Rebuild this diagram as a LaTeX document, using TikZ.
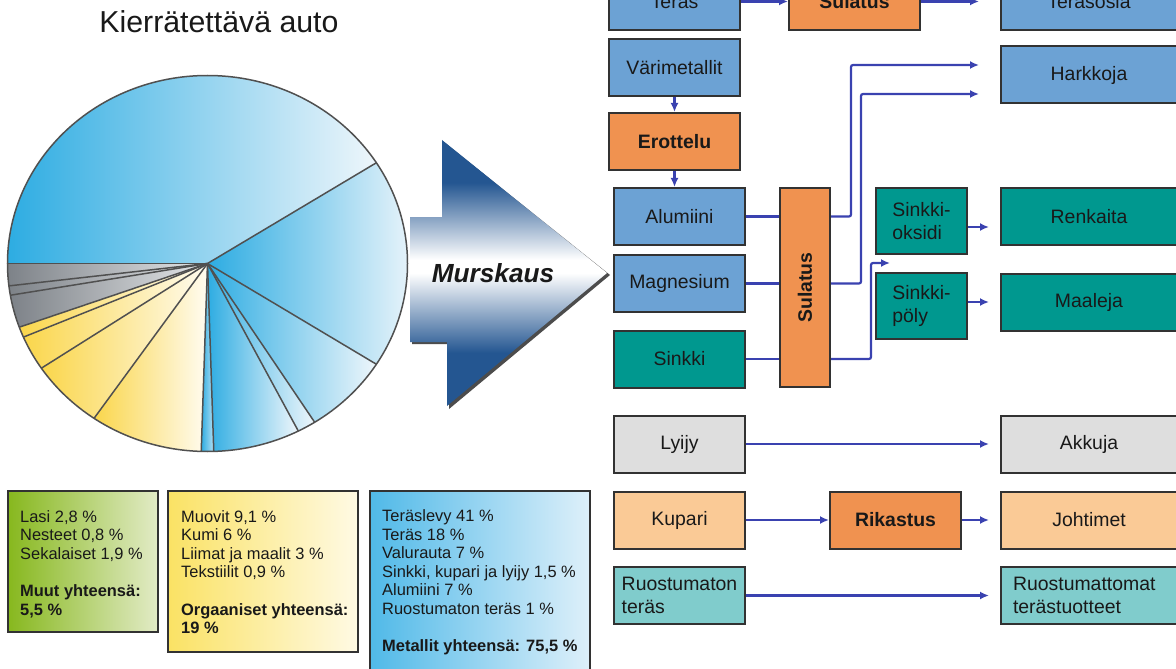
\documentclass[tikz,border=0pt]{standalone}
\usepackage{fontspec}
\setmainfont{Liberation Sans}
\usetikzlibrary{arrows.meta,calc}
\definecolor{bxblue}{RGB}{108,162,212}
\definecolor{bxorange}{RGB}{240,146,80}
\definecolor{bxteal}{RGB}{0,152,143}
\definecolor{bxgray}{RGB}{222,222,222}
\definecolor{bxpeach}{RGB}{250,202,150}
\definecolor{bxlteal}{RGB}{128,204,204}
\definecolor{conn}{RGB}{58,66,176}
\definecolor{edge}{RGB}{50,50,50}
\definecolor{pieline}{RGB}{80,80,80}
\definecolor{pieblue}{RGB}{45,172,226}
\definecolor{pieblueL}{RGB}{238,246,251}
\definecolor{pieyel}{RGB}{250,214,75}
\definecolor{pieyelL}{RGB}{255,252,242}
\definecolor{piegray}{RGB}{125,130,136}
\definecolor{piegrayL}{RGB}{228,230,232}
\definecolor{arrdark}{RGB}{36,86,145}
\definecolor{grnD}{RGB}{135,184,30}
\definecolor{grnL}{RGB}{226,235,198}
\definecolor{yelD}{RGB}{250,226,100}
\definecolor{yelL}{RGB}{255,250,228}
\definecolor{bluD}{RGB}{80,185,232}
\definecolor{bluL}{RGB}{222,240,250}
\pgfdeclareverticalshading{murskshade}{100bp}{color(0bp)=(arrdark); color(35bp)=(arrdark); color(50bp)=(white); color(52.5bp)=(white); color(67bp)=(arrdark); color(100bp)=(arrdark)}
\begin{document}
\begin{tikzpicture}[x=1bp,y=-1bp,
  fbox/.style={draw=edge, line width=2bp, inner sep=0pt, minimum height=57bp,
    minimum width=131bp, font=\fontsize{19.5}{22.5}\selectfont, text=black!90, align=center},
  wide/.style={minimum width=176bp},
  bld/.style={font=\fontsize{19.5}{22.5}\selectfont\bfseries},
  arr/.style={draw=conn, line width=2.2bp, -{Latex[length=9bp,width=8bp]}},
  ln/.style={draw=conn, line width=2.2bp},
  slc/.style={draw=pieline, line width=1.5bp},
  btxt/.style={anchor=base west, inner sep=0pt, font=\fontsize{16.5}{19}\selectfont, text=black!90},
  bbtxt/.style={btxt, font=\fontsize{16.5}{19}\selectfont\bfseries},
  panel/.style={draw=edge, line width=2bp},
  sl/.style={x radius=200, y radius=188}
]
\useasboundingbox (0,0) rectangle (1176,669);
\fill[white] (0,0) rectangle (1176,669);

% title
\node[font=\fontsize{30.4}{36}\selectfont, text=black!90] (title) at (219,22) {Kierrätettävä auto};

% pie
\begin{scope}[shift={(207.5,263.5)}, yscale=-1]
  \shade[left color=pieblue,right color=pieblueL] (0,0) -- (180:200 and 188) arc[start angle=180,end angle=32.4,sl] -- cycle;
  \shade[left color=pieblue,right color=pieblueL] (0,0) -- (32.4:200 and 188) arc[start angle=32.4,end angle=-32.4,sl] -- cycle;
  \shade[left color=pieblue,right color=pieblueL] (0,0) -- (-32.4:200 and 188) arc[start angle=-32.4,end angle=-57.6,sl] -- cycle;
  \shade[left color=pieblue,right color=pieblueL] (0,0) -- (-57.6:200 and 188) arc[start angle=-57.6,end angle=-63,sl] -- cycle;
  \shade[left color=pieblue,right color=pieblueL] (0,0) -- (-63:200 and 188) arc[start angle=-63,end angle=-88.2,sl] -- cycle;
  \shade[left color=pieblue,right color=pieblueL!70!pieblue] (0,0) -- (-88.2:200 and 188) arc[start angle=-88.2,end angle=-91.8,sl] -- cycle;
  \shade[left color=pieyel,right color=pieyelL] (0,0) -- (-91.8:200 and 188) arc[start angle=-91.8,end angle=-124.56,sl] -- cycle;
  \shade[left color=pieyel,right color=pieyelL] (0,0) -- (-124.56:200 and 188) arc[start angle=-124.56,end angle=-146.16,sl] -- cycle;
  \shade[left color=pieyel,right color=pieyelL] (0,0) -- (-146.16:200 and 188) arc[start angle=-146.16,end angle=-156.96,sl] -- cycle;
  \shade[left color=pieyel,right color=pieyelL] (0,0) -- (-156.96:200 and 188) arc[start angle=-156.96,end angle=-160.2,sl] -- cycle;
  \shade[left color=piegray,right color=piegrayL] (0,0) -- (-160.2:200 and 188) arc[start angle=-160.2,end angle=-170.28,sl] -- cycle;
  \shade[left color=piegray,right color=piegrayL] (0,0) -- (-170.28:200 and 188) arc[start angle=-170.28,end angle=-173.16,sl] -- cycle;
  \shade[left color=piegray,right color=piegrayL] (0,0) -- (-173.16:200 and 188) arc[start angle=-173.16,end angle=-180,sl] -- cycle;
  \foreach \a in {180,32.4,-32.4,-57.6,-63,-88.2,-91.8,-124.56,-146.16,-156.96,-160.2,-170.28,-173.16}
    \draw[slc] (0,0) -- (\a:200 and 188);
  \draw[slc] (0,0) ellipse[sl];
\end{scope}

% big arrow
\fill[black!70] (412,219) -- (444,219) -- (444,142) -- (610,275) -- (449,409) -- (449,344) -- (412,344) -- cycle;
\shade[shading=murskshade]
  (410,217) -- (442,217) -- (442,140) -- (607,273) -- (447,406) -- (447,342) -- (410,342) -- cycle;
\node[font=\fontsize{26.3}{31}\selectfont\bfseries\itshape, text=black!90] (murskaus) at (493,273) {Murskaus};

% bottom panels
\shadedraw[panel, left color=grnD, right color=grnL] (8,491) rectangle (158,632);
\shadedraw[panel, left color=yelD, right color=yelL] (168,491) rectangle (358,652);
\shadedraw[panel, left color=bluD, right color=bluL] (370,491) rectangle (590,690);

\node[btxt] (g1) at (20,522) {Lasi 2,8 \%};
\node[btxt] (g2) at (20,540.6) {Nesteet 0,8 \%};
\node[btxt] (g3) at (20,559.2) {Sekalaiset 1,9 \%};
\node[bbtxt] (g4) at (20,596.4) {Muut yhteensä:};
\node[bbtxt] (g5) at (20,615) {5,5 \%};

\node[btxt] (y1) at (181,522) {Muovit 9,1 \%};
\node[btxt] (y2) at (181,540.6) {Kumi 6 \%};
\node[btxt] (y3) at (181,559.2) {Liimat ja maalit 3 \%};
\node[btxt] (y4) at (181,577.8) {Tekstiilit 0,9 \%};
\node[bbtxt] (y5) at (181,615) {Orgaaniset yhteensä:};
\node[bbtxt] (y6) at (181,633.6) {19 \%};

\node[btxt] (b1) at (382,521.5) {Teräslevy 41 \%};
\node[btxt] (b2) at (382,540.1) {Teräs 18 \%};
\node[btxt] (b3) at (382,558.7) {Valurauta 7 \%};
\node[btxt] (b4) at (382,577.3) {Sinkki, kupari ja lyijy 1,5 \%};
\node[btxt] (b5) at (382,595.9) {Alumiini 7 \%};
\node[btxt] (b6) at (382,614.5) {Ruostumaton teräs 1 \%};
\node[bbtxt] (b7) at (382,651.7) {Metallit yhteensä: 75,5 \%};

% flowchart nodes
\node[fbox, fill=bxblue] (teras) at (674.5,1.5) {Teräs};
\node[fbox, fill=bxorange, bld] (sul1) at (854.5,1.5) {Sulatus};
\node[fbox, wide, fill=bxblue] (terasosia) at (1089,1.5) {Teräsosia};
\node[fbox, fill=bxblue] (varimet) at (674.5,67.5) {Värimetallit};
\node[fbox, fill=bxorange, bld] (erottelu) at (674.5,141.5) {Erottelu};
\node[fbox, fill=bxblue] (alumiini) at (679.5,216.5) {Alumiini};
\node[fbox, fill=bxblue] (magnesium) at (679.5,283.5) {Magnesium};
\node[fbox, fill=bxteal] (sinkki) at (679.5,359) {Sinkki};
\node[fbox, fill=bxorange, minimum width=50bp, minimum height=199bp] (sul2) at (805,287.5) {};
\node[rotate=90, bld, text=black!90] (sul2t) at (sul2.center) {Sulatus};
\node[fbox, fill=bxteal, minimum width=91bp, minimum height=66bp, align=left] (sox) at (921.5,221) {Sinkki-\\oksidi};
\node[fbox, fill=bxteal, minimum width=91bp, minimum height=66bp, align=left] (spol) at (921.5,306) {Sinkki-\\pöly};
\node[fbox, wide, fill=bxblue] (harkkoja) at (1089,75) {Harkkoja};
\node[fbox, wide, fill=bxteal] (renkaita) at (1089,216.5) {Renkaita};
\node[fbox, wide, fill=bxteal] (maaleja) at (1089,302) {Maaleja};
\node[fbox, fill=bxgray] (lyijy) at (679.5,444) {Lyijy};
\node[fbox, wide, fill=bxgray] (akkuja) at (1089,444) {Akkuja};
\node[fbox, fill=bxpeach] (kupari) at (679.5,520) {Kupari};
\node[fbox, fill=bxorange, bld] (rikastus) at (895.5,520) {Rikastus};
\node[fbox, wide, fill=bxpeach] (johtimet) at (1089,520) {Johtimet};
\node[fbox, fill=bxlteal, align=left] (ruost) at (679.5,595.5) {Ruostumaton\\teräs};
\node[fbox, wide, fill=bxlteal, align=left, text width=152bp] (ruostt) at (1089,595.5) {Ruostumattomat\\terästuotteet};

% connectors
\draw[arr] (teras) -- (sul1);
\draw[arr, shorten >=21bp] (sul1) -- (terasosia);
\draw[arr] (varimet) -- (erottelu);
\draw[arr] (erottelu.south) -- (erottelu.south |- alumiini.north);
\draw[ln] (alumiini) -- (alumiini -| sul2.west);
\draw[ln] (magnesium) -- (magnesium -| sul2.west);
\draw[ln] (sinkki) -- (sinkki -| sul2.west);
\draw[arr, rounded corners=2bp] (alumiini -| sul2.east) -- ++(20,0) |- ($(harkkoja.west)+(-21,-10)$);
\draw[arr, rounded corners=2bp] (magnesium -| sul2.east) -- ++(30,0) |- ($(harkkoja.west)+(-21,19)$);
\coordinate (zinc) at (890,263);
\draw[arr, rounded corners=2bp] (sinkki -| sul2.east) -- ++(40,0) |- (zinc);
\draw[arr] ($(sox.east)+(0,6)$) -- ($(sox.east -| renkaita.west)+(-11,6)$);
\draw[arr] ($(spol.east)+(0,-4)$) -- ($(spol.east -| maaleja.west)+(-11,-4)$);
\draw[arr, shorten >=11bp] (lyijy) -- (akkuja);
\draw[arr] (kupari) -- (rikastus);
\draw[arr, shorten >=11bp] (rikastus) -- (johtimet);
\draw[arr, shorten >=11bp] (ruost) -- (ruostt);
\end{tikzpicture}
\end{document}
